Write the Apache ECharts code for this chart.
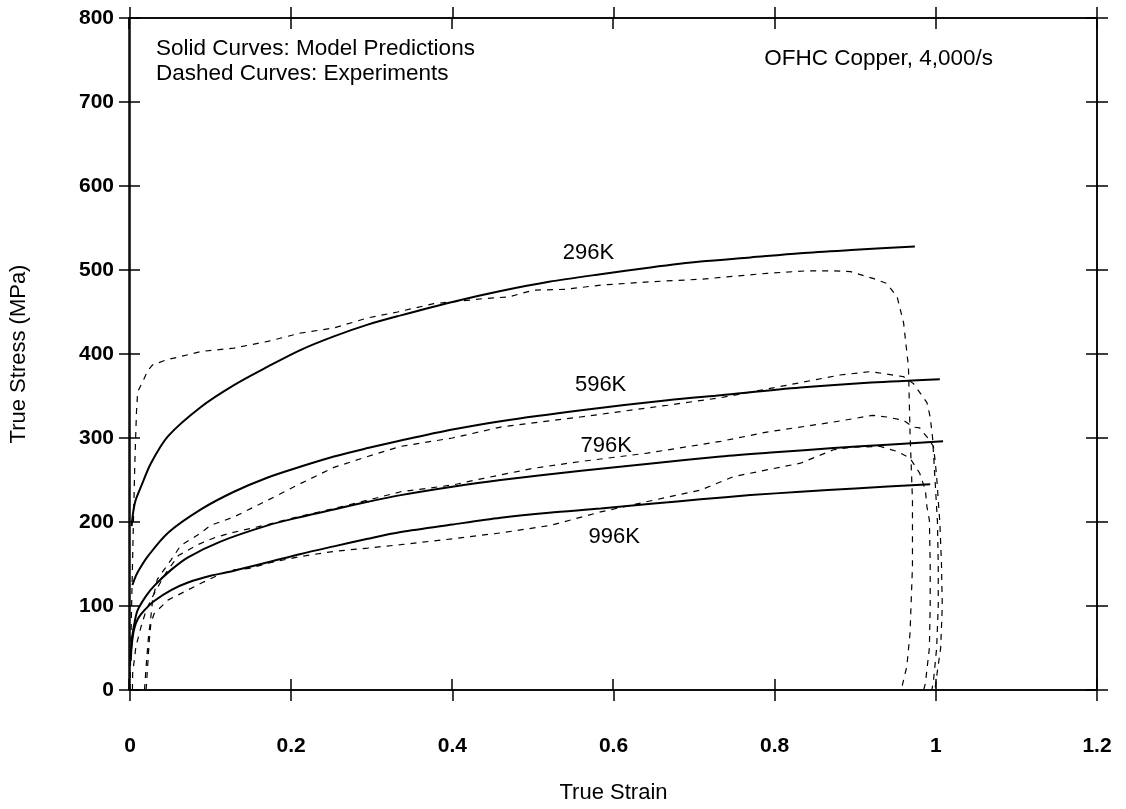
<!DOCTYPE html>
<html><head><meta charset="utf-8">
<script src="https://cdn.jsdelivr.net/npm/echarts@6/dist/echarts.min.js"></script>
<style>html,body{margin:0;padding:0;background:#fff}#c{width:1126px;height:809px}</style>
</head><body><div id="c"></div>
<script>
// ---- data (strain, true stress MPa) ----
const xRange = [0, 1.2, 0.2];
const yRange = [0, 800, 100];

const model296 = [[0.002,195],[0.004,212],[0.007,226],[0.0136,242],[0.026,270],[0.047,302],[0.088,337],[0.129,363],[0.171,385],[0.212,405],[0.253,421],[0.295,435],[0.336,446],[0.4,462],[0.46,475],[0.52,486],[0.584,495],[0.646,503],[0.708,510],[0.77,515],[0.832,520],[0.9,524],[0.974,528]];
const model596 = [[0.003,125],[0.006,133],[0.01,141],[0.022,159],[0.047,187],[0.088,215],[0.129,236],[0.171,253],[0.212,266],[0.253,278],[0.295,288],[0.336,297],[0.4,310],[0.46,320],[0.56,333],[0.667,345],[0.733,351],[0.832,360],[0.92,366],[1.005,370]];
const model796 = [[0.001,45],[0.003,65],[0.006,82],[0.0095,95],[0.02,112],[0.03,124],[0.051,143],[0.072,158],[0.113,177],[0.171,196],[0.212,206],[0.253,215],[0.295,224],[0.336,232],[0.4,242],[0.46,250],[0.56,261],[0.65,270],[0.733,278],[0.8,283],[0.873,288],[0.94,292],[1.009,296]];
const model996 = [[0.001,35],[0.002,52],[0.005,72],[0.01,85],[0.018,95],[0.03,106],[0.051,119],[0.072,128],[0.1,136],[0.129,142],[0.171,152],[0.212,162],[0.253,171],[0.295,180],[0.336,188],[0.4,197],[0.46,205],[0.52,211],[0.584,216],[0.65,222],[0.708,227],[0.77,232],[0.832,236],[0.9,240],[0.993,245]];

const exp296 = [[0,0],[0.002,100],[0.004,190],[0.006,270],[0.008,330],[0.0095,355],[0.0157,367],[0.022,380],[0.028,387],[0.045,393],[0.063,397],[0.088,403],[0.129,407],[0.171,415],[0.212,425],[0.253,431],[0.295,443],[0.332,450],[0.377,460],[0.41,463],[0.439,466],[0.47,468],[0.501,476],[0.54,477],[0.584,482],[0.646,486],[0.708,489],[0.79,496],[0.84,499],[0.873,499],[0.894,498],[0.922,490],[0.939,484],[0.952,468],[0.96,437],[0.966,385],[0.968,306],[0.971,226],[0.971,147],[0.968,68],[0.964,28],[0.957,0]];
const exp596 = [[0.018,0],[0.02,28],[0.023,64],[0.026,88],[0.028,107],[0.034,132],[0.051,155],[0.063,172],[0.088,187],[0.1,196],[0.129,206],[0.171,226],[0.212,246],[0.253,265],[0.295,278],[0.336,290],[0.4,300],[0.46,313],[0.559,325],[0.667,339],[0.733,348],[0.8,360],[0.881,375],[0.919,379],[0.96,373],[0.972,365],[0.989,342],[0.993,325],[0.996,300],[0.999,250],[1.002,200],[1.003,150],[1.003,100],[1.001,50],[0.997,10],[0.995,0]];
const exp796 = [[0.003,0],[0.0033,20],[0.0074,52],[0.0136,75],[0.02,95],[0.03,115],[0.045,140],[0.06,160],[0.084,173],[0.104,181],[0.125,187],[0.171,197],[0.212,207],[0.253,216],[0.295,226],[0.336,236],[0.4,244],[0.439,252],[0.501,264],[0.559,272],[0.642,282],[0.733,296],[0.79,307],[0.873,319],[0.922,327],[0.939,325],[0.96,321],[0.972,313],[0.98,312],[0.99,300],[0.997,290],[0.999,274],[1.001,254],[1.003,226],[1.005,199],[1.007,150],[1.008,100],[1.006,50],[1.001,16],[0.999,0]];
const exp996 = [[0.02,0],[0.022,30],[0.024,60],[0.026,80],[0.03,91],[0.047,107],[0.088,127],[0.11,137],[0.129,143],[0.15,145],[0.171,151],[0.212,159],[0.253,165],[0.295,169],[0.336,173],[0.4,180],[0.46,187],[0.522,196],[0.584,212],[0.65,226],[0.708,238],[0.749,254],[0.79,262],[0.832,270],[0.873,286],[0.894,289],[0.931,290],[0.952,284],[0.968,276],[0.98,258],[0.987,238],[0.989,218],[0.992,202],[0.993,150],[0.993,100],[0.992,50],[0.987,8],[0.985,0]];

const tempLabels = ['296K','596K','796K','996K'];
const labelX = [0.569, 0.584, 0.591, 0.601];
const labelY = [520, 363, 290, 182];

// ---- chart ----
const FONT = '"Liberation Sans", Arial, sans-serif';
const INK = '#000';
const gridRect = {left:129, right:29, top:18, bottom:119};

function xAx(gi, pos, inside, labels) {
  return {type:'value', gridIndex:gi, position:pos, min:xRange[0], max:xRange[1], interval:xRange[2],
    axisLine:{show:true, onZero:false, lineStyle:{color:INK, width:1.5}},
    axisTick:{show:true, inside:inside, length:11, lineStyle:{color:INK, width:1.5}},
    axisLabel:{show:labels, margin:46, color:INK, fontSize:21, fontWeight:'bold', fontFamily:FONT},
    splitLine:{show:false},
    name: labels ? 'True Strain' : '', nameLocation:'middle', nameGap:92,
    nameTextStyle:{color:INK, fontSize:22, fontFamily:FONT}};
}
function yAx(gi, pos, inside, labels) {
  return {type:'value', gridIndex:gi, position:pos, min:yRange[0], max:yRange[1], interval:yRange[2],
    axisLine:{show:true, onZero:false, lineStyle:{color:INK, width:1.5}},
    axisTick:{show:true, inside:inside, length:11, lineStyle:{color:INK, width:1.5}},
    axisLabel:{show:labels, margin:16, color:INK, fontSize:21, fontWeight:'bold', fontFamily:FONT},
    splitLine:{show:false},
    name: labels ? 'True Stress (MPa)' : '', nameLocation:'middle', nameGap:100,
    nameTextStyle:{color:INK, fontSize:22, fontFamily:FONT}};
}

function solid(d) {
  return {type:'line', data:d, xAxisIndex:0, yAxisIndex:0, symbol:'none', smooth:0.3, z:3,
    lineStyle:{color:INK, width:2}};
}
function dashed(d) {
  return {type:'line', data:d, xAxisIndex:0, yAxisIndex:0, symbol:'none', smooth:false, z:2,
    lineStyle:{color:INK, width:1.2, type:[6,6]}};
}

const option = {
  animation:false,
  backgroundColor:'#fff',
  grid:[Object.assign({}, gridRect), Object.assign({}, gridRect)],
  xAxis:[xAx(0,'bottom',false,true), xAx(0,'top',false,false), xAx(1,'bottom',true,false), xAx(1,'top',true,false)],
  yAxis:[yAx(0,'left',false,true), yAx(0,'right',false,false), yAx(1,'left',true,false), yAx(1,'right',true,false)],
  graphic:[
    {type:'text', left:156, top:37, style:{text:'Solid Curves: Model Predictions', fill:INK, font:'22.5px '+FONT}},
    {type:'text', left:156, top:62, style:{text:'Dashed Curves: Experiments', fill:INK, font:'22.5px '+FONT}},
    {type:'text', right:133, top:47, style:{text:'OFHC Copper, 4,000/s', fill:INK, font:'22.5px '+FONT}}
  ],
  series:[
    solid(model296), solid(model596), solid(model796), solid(model996),
    dashed(exp296), dashed(exp596), dashed(exp796), dashed(exp996),
    {type:'scatter', xAxisIndex:0, yAxisIndex:0, symbolSize:1, z:5, itemStyle:{opacity:0},
     data: tempLabels.map((t,i)=>({name:t, value:[labelX[i], labelY[i]]})),
     label:{show:true, position:'inside', formatter:'{b}', color:'#000', opacity:1, fontSize:22, fontFamily:FONT}}
  ]
};
const chart = echarts.init(document.getElementById('c'), null, {renderer:'canvas'});
chart.setOption(option);
</script>
</body></html>
